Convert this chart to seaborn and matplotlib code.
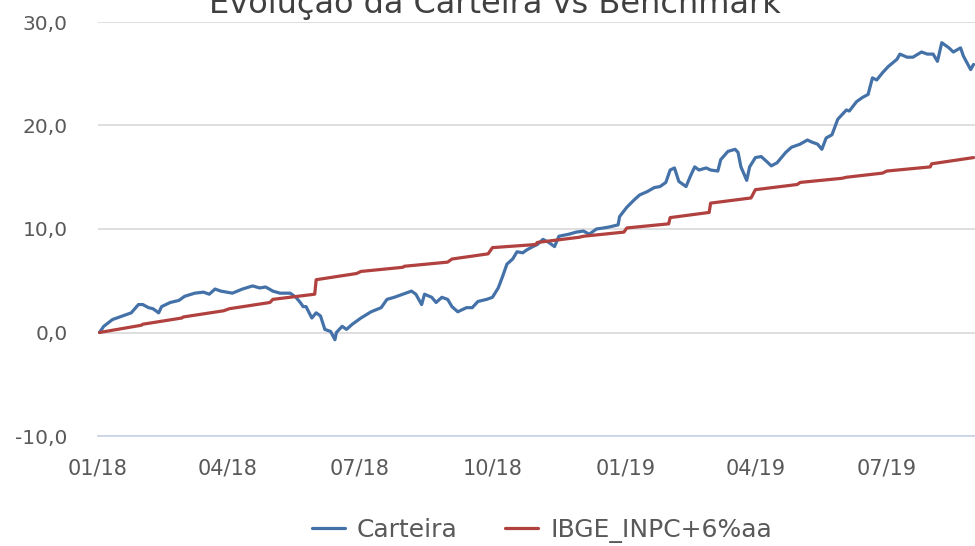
import pandas as pd
import matplotlib
matplotlib.use("Agg")
import matplotlib.pyplot as plt
import matplotlib.dates as mdates
from matplotlib.ticker import FuncFormatter
import seaborn as sns

# %% data ----------------------------------------------------------------------

cart_dates = [
    "2018-01-02", "2018-01-05", "2018-01-11", "2018-01-18", "2018-01-24", "2018-01-29",
    "2018-02-01", "2018-02-05", "2018-02-08", "2018-02-12", "2018-02-14", "2018-02-20",
    "2018-02-26", "2018-03-02", "2018-03-09", "2018-03-15", "2018-03-19", "2018-03-23",
    "2018-03-27", "2018-04-04", "2018-04-11", "2018-04-18", "2018-04-23", "2018-04-27",
    "2018-05-02", "2018-05-07", "2018-05-14", "2018-05-18", "2018-05-21", "2018-05-23",
    "2018-05-25", "2018-05-29", "2018-06-01", "2018-06-04", "2018-06-07", "2018-06-11",
    "2018-06-14", "2018-06-15", "2018-06-19", "2018-06-22", "2018-06-26", "2018-07-02",
    "2018-07-09", "2018-07-16", "2018-07-20", "2018-07-25", "2018-07-31", "2018-08-06",
    "2018-08-09", "2018-08-13", "2018-08-15", "2018-08-20", "2018-08-23", "2018-08-27",
    "2018-08-31", "2018-09-03", "2018-09-07", "2018-09-13", "2018-09-17", "2018-09-21",
    "2018-09-27", "2018-10-01", "2018-10-05", "2018-10-08", "2018-10-11", "2018-10-15",
    "2018-10-18", "2018-10-22", "2018-10-25", "2018-10-29", "2018-11-01", "2018-11-05",
    "2018-11-09", "2018-11-13", "2018-11-16", "2018-11-23", "2018-11-28", "2018-12-03",
    "2018-12-07", "2018-12-12", "2018-12-17", "2018-12-21", "2018-12-27", "2018-12-28",
    "2019-01-02", "2019-01-07", "2019-01-11", "2019-01-16", "2019-01-21", "2019-01-25",
    "2019-01-29", "2019-02-01", "2019-02-04", "2019-02-07", "2019-02-12", "2019-02-15",
    "2019-02-18", "2019-02-21", "2019-02-26", "2019-03-01", "2019-03-06", "2019-03-08",
    "2019-03-13", "2019-03-18", "2019-03-20", "2019-03-22", "2019-03-26", "2019-03-28",
    "2019-04-01", "2019-04-05", "2019-04-09", "2019-04-12", "2019-04-16", "2019-04-22",
    "2019-04-26", "2019-05-02", "2019-05-07", "2019-05-10", "2019-05-14", "2019-05-17",
    "2019-05-20", "2019-05-24", "2019-05-28", "2019-06-03", "2019-06-05", "2019-06-10",
    "2019-06-14", "2019-06-18", "2019-06-21", "2019-06-24", "2019-06-28", "2019-07-02",
    "2019-07-08", "2019-07-10", "2019-07-15", "2019-07-19", "2019-07-25", "2019-07-29",
    "2019-08-02", "2019-08-05", "2019-08-08", "2019-08-13", "2019-08-16", "2019-08-21",
    "2019-08-23", "2019-08-28", "2019-08-30",
]
cart_values = [
    0.0, 0.6, 1.25, 1.6, 1.9, 2.7,
    2.7, 2.4, 2.3, 1.9, 2.5, 2.9,
    3.1, 3.5, 3.8, 3.9, 3.7, 4.2,
    4.0, 3.8, 4.2, 4.5, 4.3, 4.4,
    4.0, 3.8, 3.8, 3.4, 2.9, 2.5,
    2.5, 1.4, 1.9, 1.6, 0.3, 0.1,
    -0.7, 0.0, 0.6, 0.3, 0.8, 1.4,
    2.0, 2.4, 3.2, 3.4, 3.7, 4.0,
    3.7, 2.7, 3.7, 3.4, 2.9, 3.4,
    3.2, 2.5, 2.0, 2.4, 2.4, 3.0,
    3.2, 3.4, 4.3, 5.4, 6.6, 7.1,
    7.8, 7.7, 8.0, 8.3, 8.5, 9.0,
    8.7, 8.3, 9.3, 9.5, 9.7, 9.8,
    9.5, 10.0, 10.1, 10.2, 10.4, 11.2,
    12.1, 12.8, 13.3, 13.6, 14.0, 14.1,
    14.5, 15.7, 15.9, 14.6, 14.1, 15.1,
    16.0, 15.7, 15.9, 15.7, 15.6, 16.7,
    17.5, 17.7, 17.4, 16.0, 14.7, 16.0,
    16.9, 17.0, 16.5, 16.1, 16.4, 17.4,
    17.9, 18.2, 18.6, 18.4, 18.2, 17.7,
    18.8, 19.1, 20.6, 21.5, 21.4, 22.3,
    22.7, 23.0, 24.6, 24.4, 25.1, 25.7,
    26.4, 26.9, 26.6, 26.6, 27.1, 26.9,
    26.9, 26.2, 28.0, 27.5, 27.1, 27.5,
    26.7, 25.4, 25.9,
]

# benchmark: first and last business day of each month (steps at month turn)
bench_dates = [
    "2018-01-02", "2018-01-31", "2018-02-01", "2018-02-28", "2018-03-01", "2018-03-29",
    "2018-04-02", "2018-04-30", "2018-05-02", "2018-05-31", "2018-06-01", "2018-06-29",
    "2018-07-02", "2018-07-31", "2018-08-01", "2018-08-31", "2018-09-03", "2018-09-28",
    "2018-10-01", "2018-10-31", "2018-11-01", "2018-11-30", "2018-12-03", "2018-12-31",
    "2019-01-02", "2019-01-31", "2019-02-01", "2019-02-28", "2019-03-01", "2019-03-29",
    "2019-04-01", "2019-04-30", "2019-05-02", "2019-05-31", "2019-06-03", "2019-06-28",
    "2019-07-01", "2019-07-31", "2019-08-01", "2019-08-30",
]
bench_values = [
    0.0, 0.7, 0.8, 1.4, 1.5, 2.1,
    2.3, 2.9, 3.2, 3.7, 5.1, 5.7,
    5.9, 6.3, 6.4, 6.8, 7.1, 7.6,
    8.2, 8.5, 8.7, 9.2, 9.3, 9.7,
    10.1, 10.5, 11.1, 11.6, 12.5, 13.0,
    13.8, 14.3, 14.5, 14.9, 15.0, 15.4,
    15.6, 16.0, 16.3, 16.9,
]

series_names = ["Carteira", "IBGE_INPC+6%aa"]
palette = ["#4472A8", "#B0413E"]

df = pd.concat([
    pd.DataFrame({"data": pd.to_datetime(cart_dates), "valor": cart_values, "serie": series_names[0]}),
    pd.DataFrame({"data": pd.to_datetime(bench_dates), "valor": bench_values, "serie": series_names[1]}),
], ignore_index=True)

# %% plot ---------------------------------------------------------------------

sns.set_style("white")
plt.rcParams["font.family"] = ["DejaVu Sans"]

fig = plt.figure(figsize=(9.75, 5.46), dpi=100)
ax = fig.add_axes([98 / 975, 110 / 546, 1 - 98 / 975, 414 / 546])

sns.lineplot(data=df, x="data", y="valor", hue="serie", palette=palette,
             linewidth=2.3, ax=ax, legend=True)

ax.set_ylim(-10, 30)
ax.set_yticks([-10, 0, 10, 20, 30])
ax.set_xlim(pd.Timestamp("2018-01-01"), pd.Timestamp("2019-08-31"))
ax.xaxis.set_major_locator(mdates.MonthLocator(bymonth=[1, 4, 7, 10]))
ax.xaxis.set_major_formatter(mdates.DateFormatter("%m/%y"))
ax.yaxis.set_major_formatter(FuncFormatter(lambda v, p: f"{v:.1f}".replace(".", ",")))

ax.grid(axis="y", color="#D9D9D9", linewidth=1.2)
ax.set_axisbelow(True)
for s in ["top", "right", "left"]:
    ax.spines[s].set_visible(False)
ax.spines["bottom"].set_color("#C6D2E6")
ax.spines["bottom"].set_linewidth(1.2)

ax.tick_params(axis="x", length=13, width=1.2, color="#C6D2E6", pad=3,
               labelsize=15, labelcolor="#595959")
ax.tick_params(axis="y", length=0, pad=22, labelsize=14.5, labelcolor="#595959")
ax.set_xlabel("")
ax.set_ylabel("")

handles, labels = ax.get_legend_handles_labels()
ax.legend_.remove()
fig.legend(handles, labels, loc="center", bbox_to_anchor=(0.556, 0.028), ncol=2,
           frameon=False, fontsize=18, labelcolor="#595959", handlelength=1.3,
           handletextpad=0.5, columnspacing=1.9)

fig.text(0.508, 1 - 13 / 546, "Evolução da Carteira vs Benchmark", ha="center",
         va="baseline", fontsize=23, color="#404040")

fig.savefig("out.png", dpi=100)
